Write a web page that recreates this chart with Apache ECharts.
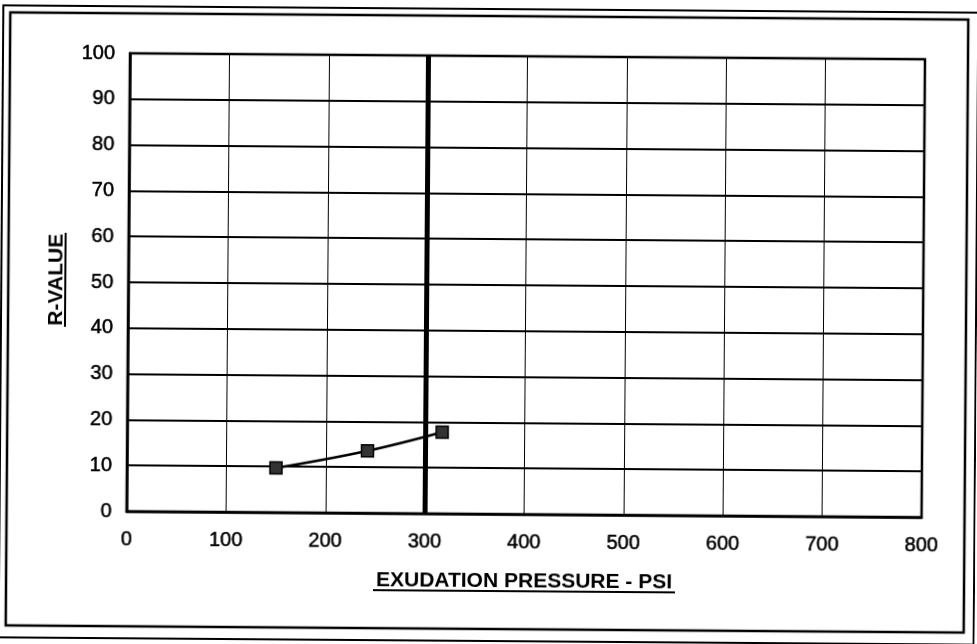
<!DOCTYPE html>
<html>
<head>
<meta charset="utf-8">
<script src="https://cdn.jsdelivr.net/npm/echarts@6/dist/echarts.min.js"></script>
<style>
  html, body { margin: 0; padding: 0; background: #fff; overflow: hidden; }
  #chart { width: 977px; height: 644px; transform: rotate(0.43deg); transform-origin: 50% 50%; background: #fff; }
</style>
</head>
<body>
<div id="chart"></div>
<script>
// Stabilometer test: exudation pressure vs R-value
const pressurePsi = [150, 242, 317];
const rValues = [9.7, 13.6, 17.8];
const xTicks = [0, 100, 200, 300, 400, 500, 600, 700, 800];
const yTicks = [0, 10, 20, 30, 40, 50, 60, 70, 80, 90, 100];
const referencePressure = 300;
const xTitle = 'EXUDATION PRESSURE - PSI';
const yTitle = 'R-VALUE';

const FONT = '"Liberation Sans", Arial, sans-serif';
const chart = echarts.init(document.getElementById('chart'), null, { renderer: 'canvas' });

const tickLabel = (margin) => ({
  color: '#000', fontSize: 20, fontFamily: FONT, margin: margin,
  textBorderColor: '#000', textBorderWidth: 0.5
});

chart.setOption({
  backgroundColor: '#fff',
  animation: false,
  grid: {
    left: 128, top: 56, width: 795, height: 458,
    show: true, borderColor: '#000', borderWidth: 2.5, backgroundColor: 'transparent'
  },
  xAxis: {
    type: 'value',
    min: xTicks[0], max: xTicks[xTicks.length - 1], interval: 100,
    axisLine: { show: true, onZero: false, lineStyle: { color: '#000', width: 2.5 } },
    axisTick: { show: false },
    splitLine: { show: true, lineStyle: { color: '#000', width: 1 } },
    axisLabel: tickLabel(18)
  },
  yAxis: {
    type: 'value',
    min: yTicks[0], max: yTicks[yTicks.length - 1], interval: 10,
    axisLine: { show: true, onZero: false, lineStyle: { color: '#000', width: 2.5 } },
    axisTick: { show: false },
    splitLine: { show: true, lineStyle: { color: '#000', width: 2 } },
    axisLabel: tickLabel(15)
  },
  series: [{
    type: 'line',
    data: pressurePsi.map((p, i) => [p, rValues[i]]),
    smooth: 0.4,
    symbol: 'rect',
    symbolSize: 12,
    lineStyle: { color: '#000', width: 2.5 },
    itemStyle: { color: '#333', borderColor: '#000', borderWidth: 1.5 },
    z: 5,
    markLine: {
      silent: true,
      symbol: 'none',
      label: { show: false },
      lineStyle: { color: '#000', width: 5, type: 'solid' },
      data: [{ xAxis: referencePressure }],
      z: 3
    }
  }],
  graphic: [
    { type: 'rect', shape: { x: 1, y: 9, width: 975, height: 632 }, style: { fill: 'none', stroke: '#000', lineWidth: 2 }, silent: true },
    { type: 'rect', shape: { x: 8, y: 16, width: 958, height: 613 }, style: { fill: 'none', stroke: '#000', lineWidth: 2.5 }, silent: true },
    { type: 'text', x: 526, y: 581, style: { text: xTitle, font: 'bold 21px ' + FONT, fill: '#000', align: 'center', verticalAlign: 'middle' } },
    { type: 'rect', shape: { x: 375, y: 590, width: 302, height: 2 }, style: { fill: '#000' } },
    { type: 'text', x: 56, y: 283, rotation: Math.PI / 2, style: { text: yTitle, font: 'bold 21px ' + FONT, fill: '#000', align: 'center', verticalAlign: 'middle' } },
    { type: 'rect', shape: { x: 64, y: 236, width: 2, height: 94 }, style: { fill: '#000' } }
  ]
});
</script>
</body>
</html>
